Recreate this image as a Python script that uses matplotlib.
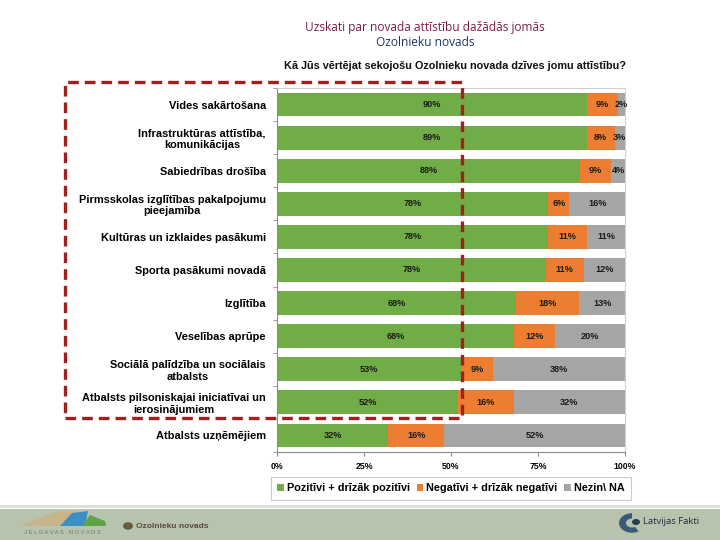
import numpy as np
import matplotlib.pyplot as plt
from matplotlib.patches import Rectangle, Polygon, Circle, Wedge

plt.rcParams["font.family"] = ["Liberation Sans", "DejaVu Sans"]

# ── dati ──────────────────────────────────────────────────────────────
categories = [
    "Vides sakārtošana",
    "Infrastruktūras attīstība,\nkomunikācijas",
    "Sabiedrības drošība",
    "Pirmsskolas izglītības pakalpojumu\npieejamība",
    "Kultūras un izklaides pasākumi",
    "Sporta pasākumi novadā",
    "Izglītība",
    "Veselības aprūpe",
    "Sociālā palīdzība un sociālais\natbalsts",
    "Atbalsts pilsoniskajai iniciatīvai un\nierosinājumiem",
    "Atbalsts uzņēmējiem",
]
positive = [90, 89, 88, 78, 78, 78, 68, 68, 53, 52, 32]
negative = [9, 8, 9, 6, 11, 11, 18, 12, 9, 16, 16]
unknown = [2, 3, 4, 16, 11, 12, 13, 20, 38, 32, 52]
series_names = ["Pozitīvi + drīzāk pozitīvi", "Negatīvi + drīzāk negatīvi", "Nezin\\ NA"]
x_ticks = [0, 0.25, 0.5, 0.75, 1.0]
x_tick_labels = ["0%", "25%", "50%", "75%", "100%"]

GREEN, ORANGE, GREY = "#70AD47", "#ED7D31", "#A5A5A5"
W, H = 720, 540

fig = plt.figure(figsize=(7.2, 5.4), dpi=100)
fig.patch.set_facecolor("white")

def fx(px): return px / W
def fy(py): return 1 - py / H

# ── virsraksti ────────────────────────────────────────────────────────
fig.text(fx(425), fy(27), "Uzskati par novada attīstību dažādās jomās", ha="center", va="center",
         fontsize=8.6, color="#7B1E4E", family=["Open Sans", "DejaVu Sans"])
fig.text(fx(425), fy(43), "Ozolnieku novads", ha="center", va="center",
         fontsize=8.6, color="#1F3864", family=["Open Sans", "DejaVu Sans"])
fig.text(fx(455), fy(66), "Kā Jūs vērtējat sekojošu Ozolnieku novada dzīves jomu attīstību?",
         ha="center", va="center", fontsize=7.8, fontweight="bold", color="#111111")

# ── grafiks ───────────────────────────────────────────────────────────
ax = fig.add_axes([fx(277), fy(452), fx(625) - fx(277), (452 - 88) / H])
pos = np.array(positive, float)
neg = np.array(negative, float)
unk = np.array(unknown, float)
tot = pos + neg + unk
y = np.arange(len(categories))
bh = 0.72

b1 = ax.barh(y, pos / tot, height=bh, color=GREEN, label=series_names[0])
b2 = ax.barh(y, neg / tot, left=pos / tot, height=bh, color=ORANGE, label=series_names[1])
b3 = ax.barh(y, unk / tot, left=(pos + neg) / tot, height=bh, color=GREY, label=series_names[2])

for bars, vals in [(b1, positive), (b2, negative), (b3, unknown)]:
    for bar, v in zip(bars, vals):
        cx = bar.get_x() + bar.get_width() / 2
        ax.text(cx, bar.get_y() + bar.get_height() / 2, f"{v}%", ha="center", va="center",
                fontsize=6.6, fontweight="bold", color="#1a1a1a")

ax.set_ylim(len(categories) - 0.5, -0.5)
ax.set_xlim(0, 1)
ax.set_yticks(y)
ax.set_yticklabels(categories, fontsize=7.9, fontweight="bold", multialignment="center")
ax.tick_params(axis="y", length=0, pad=8)
ax.set_yticks(np.arange(-0.5, len(categories), 1), minor=True)
ax.tick_params(axis="y", which="minor", length=3, color="#8c8c8c")
ax.set_xticks(x_ticks)
ax.set_xticklabels(x_tick_labels, fontsize=6.3, fontweight="bold")
ax.tick_params(axis="x", length=3, color="#8c8c8c", pad=4)
for s in ["top", "right"]:
    ax.spines[s].set_color("#d0d0d0")
for s in ["left", "bottom"]:
    ax.spines[s].set_color("#8c8c8c")
for s in ax.spines.values():
    s.set_linewidth(0.8)

leg = fig.legend(handles=[b1, b2, b3], labels=series_names, loc="center",
                 bbox_to_anchor=(fx(451), fy(488)), ncol=3, frameon=True, fancybox=False,
                 fontsize=7.8, handlelength=0.6, handleheight=0.6, handletextpad=0.3,
                 columnspacing=0.6, borderpad=0.6, edgecolor="#bfbfbf")
for t in leg.get_texts():
    t.set_fontweight("bold")
leg.get_frame().set_linewidth(0.8)

# ── sarkanais svītrotais rāmis ────────────────────────────────────────
fig.patches.append(Rectangle((fx(65), fy(418)), fx(462) - fx(65), (418 - 82) / H,
                             transform=fig.transFigure, fill=False, edgecolor="#A31F1F",
                             linewidth=2.4, linestyle=(0, (3.2, 1.8)), zorder=10))

# ── kājene ────────────────────────────────────────────────────────────
fig.patches.append(Rectangle((0, 0), 1, 31 / H, transform=fig.transFigure,
                             facecolor="#B7C3AD", edgecolor="none", zorder=0))
fig.patches.append(Rectangle((0, 32 / H), 1, 3 / H, transform=fig.transFigure,
                             facecolor="#DCE0D8", edgecolor="none", zorder=0))
# Jelgavas novada logo
fig.patches.append(Polygon([(fx(20), fy(526)), (fx(55), fy(512)), (fx(80), fy(511)), (fx(68), fy(526))],
                           closed=True, transform=fig.transFigure, facecolor="#C8B48A", edgecolor="none"))
fig.patches.append(Polygon([(fx(60), fy(526)), (fx(72), fy(513)), (fx(88), fy(511)), (fx(85), fy(526))],
                           closed=True, transform=fig.transFigure, facecolor="#3A8FC4", edgecolor="none"))
fig.patches.append(Polygon([(fx(82), fy(526)), (fx(90), fy(515)), (fx(105), fy(521)), (fx(106), fy(526))],
                           closed=True, transform=fig.transFigure, facecolor="#5EA447", edgecolor="none"))
fig.text(fx(62), fy(533), "J E L G A V A S   N O V A D S", ha="center", va="center",
         fontsize=4.2, color="#6d7a6a")
fig.patches.append(Circle((fx(128), fy(526)), 5 / W, transform=fig.transFigure,
                          facecolor="#6a5a3a", edgecolor="none"))
fig.text(fx(136), fy(527), "Ozolnieku novads", ha="left", va="center", fontsize=6,
         fontweight="bold", color="#5a4a3a")
# Latvijas Fakti logo
fig.patches.append(Wedge((fx(632), fy(523)), 13 / W, 90, 300, width=7 / W,
                         transform=fig.transFigure, facecolor="#3b5a7a", edgecolor="none"))
fig.patches.append(Circle((fx(636), fy(522)), 4 / W, transform=fig.transFigure,
                          facecolor="#2a3f55", edgecolor="none"))
fig.text(fx(643), fy(522), "Latvijas Fakti", ha="left", va="center", fontsize=6.8,
         color="#1f2f3f", family=["Open Sans", "DejaVu Sans"])

fig.savefig("out.png", dpi=100, facecolor=fig.get_facecolor())
